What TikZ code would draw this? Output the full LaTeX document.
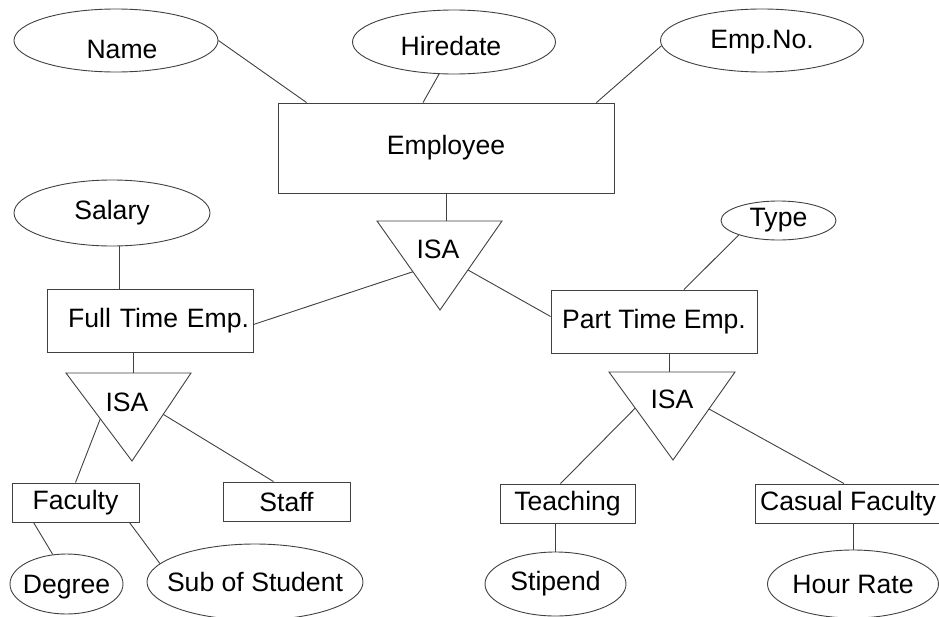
\documentclass[tikz,border=0pt]{standalone}
\usepackage{fontspec}
\setmainfont{Liberation Sans}
\usetikzlibrary{shapes.geometric,calc}
\begin{document}
\begin{tikzpicture}[x=1pt,y=-1pt,line width=0.9pt,
    every node/.style={font=\fontsize{26.6}{32}\selectfont,text=black},
    entity/.style={draw=black!75,rectangle,inner sep=0pt,minimum height=39pt},
    attr/.style={draw=black!75,ellipse,inner xsep=-20pt,inner ysep=-10pt},
    link/.style={draw=black!75}]
\useasboundingbox (0,0) rectangle (939,616);
\node[entity,minimum width=336pt,minimum height=90pt] (emp) at (446,148) {Employee};
\node[attr,minimum width=204pt,minimum height=63pt,label={[shift={(6pt,-9pt)}]center:Name}] (name) at (116,40.5) {};
\node[attr,minimum width=203pt,minimum height=64pt,label={[shift={(-3pt,-4pt)}]center:Hiredate}] (hire) at (454,42) {};
\node[attr,minimum width=203pt,minimum height=63pt,label={[shift={(0pt,-2pt)}]center:Emp.No.}] (empno) at (762,40.5) {};
\node[attr,minimum width=196pt,minimum height=66pt] (sal) at (112,213) {Salary};
\node[attr,minimum width=115pt,minimum height=39pt] (type) at (778.5,220.5) {Type};
\node[entity,minimum width=206pt,minimum height=63pt,text width=198pt,align=right] (ft) at (150,320.5) {Full Time Emp.};
\node[entity,minimum width=206pt,minimum height=63pt] (pt) at (654,321.5) {Part Time Emp.};
\draw[link] (377,221) coordinate (a1) -- (502,221) coordinate (b1) -- (440,310) coordinate (c1) -- cycle;
\node (isa1) at (438,249) {ISA};
\draw[link] (66,373) coordinate (a2) -- (191,373) coordinate (b2) -- (132,461) coordinate (c2) -- cycle;
\node (isa2) at (127,402) {ISA};
\draw[link] (609,372) coordinate (a3) -- (735,372) coordinate (b3) -- (673,460) coordinate (c3) -- cycle;
\node (isa3) at (672,399) {ISA};
\node[entity,minimum width=127pt] (fac) at (75.5,502.5) {Faculty};
\node[entity,minimum width=127pt] (staff) at (286.5,501.5) {Staff};
\node[entity,minimum width=135pt] (teach) at (567.5,503.5) {Teaching};
\node[entity,minimum width=186pt] (cas) at (848,503.5) {Casual Faculty};
\node[attr,minimum width=113pt,minimum height=60pt,label={[shift={(0pt,-3pt)}]center:Degree}] (deg) at (66.5,584) {};
\node[attr,minimum width=216pt,minimum height=76pt] (sub) at (255,582) {Sub of Student};
\node[attr,minimum width=141pt,minimum height=64pt] (stip) at (555.5,584) {Stipend};
\node[attr,minimum width=171pt,minimum height=68pt] (hour) at (853,584) {Hour Rate};
\coordinate (s1) at ([xshift=7pt]sal.south);
\coordinate (f1) at ([xshift=-17pt]ft.south);
\coordinate (p1) at ([xshift=15pt]pt.south);
\draw[link] (name.east) -- ([xshift=29pt]emp.north west);
\draw[link] (hire.245) -- ([xshift=-23pt]emp.north);
\draw[link] (empno.183) -- ([xshift=-18pt]emp.north east);
\draw[link] (emp.south) -- (emp.south |- a1);
\draw[link] ($(a1)!0.57!(c1)$) -- ([yshift=-4pt]ft.east);
\draw[link] ($(b1)!0.55!(c1)$) -- ([yshift=5pt]pt.west);
\draw[link] (s1) -- (s1 |- ft.north);
\draw[link] (type.200) -- ([xshift=30pt]pt.north);
\draw[link] (f1) -- (f1 |- a2);
\draw[link] ($(a2)!0.52!(c2)$) -- (fac.north);
\draw[link] ($(b2)!0.47!(c2)$) -- ([xshift=-13pt]staff.north);
\draw[link] ([xshift=22pt]fac.south west) -- (deg.115);
\draw[link] ([xshift=-10pt]fac.south east) -- (sub.169);
\draw[link] (p1) -- (p1 |- a3);
\draw[link] ($(a3)!0.41!(c3)$) -- ([xshift=-7pt]teach.north);
\draw[link] ($(b3)!0.42!(c3)$) -- ([xshift=-4pt]cas.north);
\draw[link] (stip.north |- teach.south) -- (stip.north);
\draw[link] (hour.north |- cas.south) -- (hour.north);
\end{tikzpicture}
\end{document}
